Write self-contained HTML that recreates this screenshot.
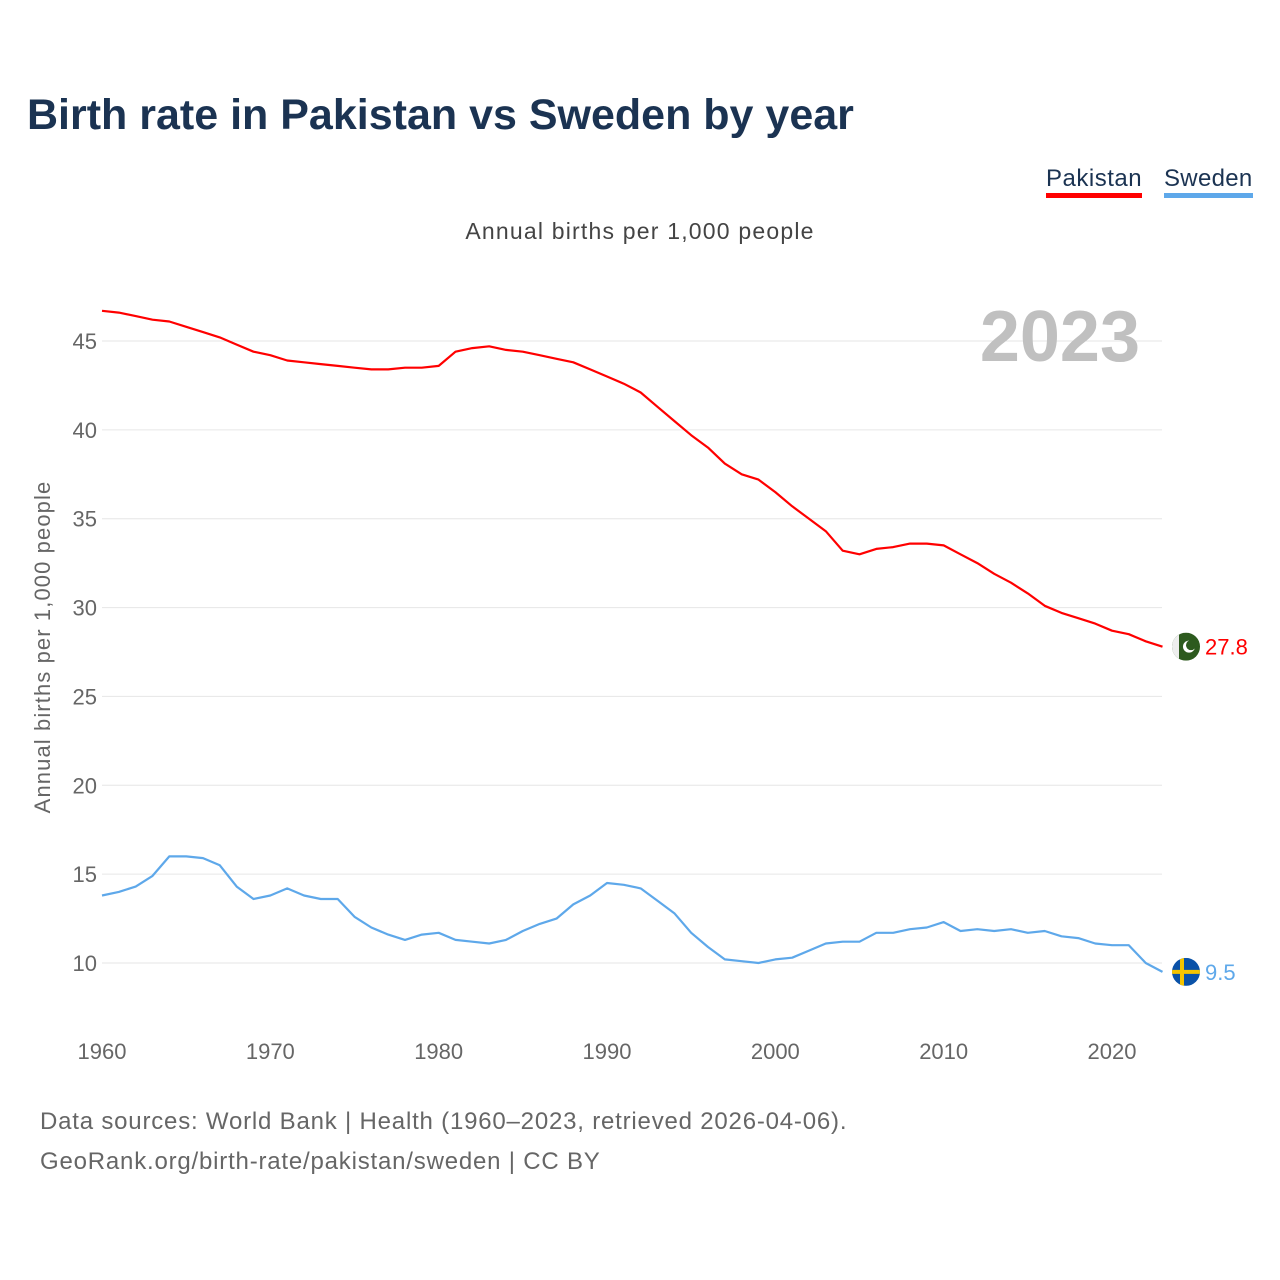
<!DOCTYPE html>
<html><head><meta charset="utf-8"><style>
body{margin:0;background:#fff;font-family:"Liberation Sans",sans-serif}
#wrap{position:relative;width:1280px;height:1280px;overflow:hidden}
.t{position:absolute;white-space:nowrap}
</style></head><body>
<div id="wrap">
<div class="t" style="left:27px;top:91px;font-size:43px;font-weight:bold;color:#1b3352">Birth rate in Pakistan vs Sweden by year</div>
<div class="t" style="left:1046px;top:165px;font-size:24px;color:#1b3352;border-bottom:5px solid #ff0000;line-height:28px;letter-spacing:0.5px">Pakistan</div>
<div class="t" style="left:1164px;top:165px;font-size:24px;color:#1b3352;border-bottom:5px solid #5ea8ea;line-height:28px;letter-spacing:0.3px">Sweden</div>
<div class="t" style="left:0;width:1280px;text-align:center;top:218px;font-size:23px;color:#444;letter-spacing:1.2px">Annual births per 1,000 people</div>
<svg id="chart" width="1280" height="1280" style="position:absolute;left:0;top:0"></svg>
<div class="t" style="left:40px;top:1108px;font-size:24px;color:#666;letter-spacing:0.8px">Data sources: World Bank | Health (1960–2023, retrieved 2026-04-06).</div>
<div class="t" style="left:40px;top:1148px;font-size:24px;color:#666;letter-spacing:0.8px">GeoRank.org/birth-rate/pakistan/sweden | CC BY</div>
</div>
<script>
const startYear = 1960;
const pakistan = [46.7,46.6,46.4,46.2,46.1,45.8,45.5,45.2,44.8,44.4,44.2,43.9,43.8,43.7,43.6,43.5,43.4,43.4,43.5,43.5,43.6,44.4,44.6,44.7,44.5,44.4,44.2,44.0,43.8,43.4,43.0,42.6,42.1,41.3,40.5,39.7,39.0,38.1,37.5,37.2,36.5,35.7,35.0,34.3,33.2,33.0,33.3,33.4,33.6,33.6,33.5,33.0,32.5,31.9,31.4,30.8,30.1,29.7,29.4,29.1,28.7,28.5,28.1,27.8];
const sweden = [13.8,14.0,14.3,14.9,16.0,16.0,15.9,15.5,14.3,13.6,13.8,14.2,13.8,13.6,13.6,12.6,12.0,11.6,11.3,11.6,11.7,11.3,11.2,11.1,11.3,11.8,12.2,12.5,13.3,13.8,14.5,14.4,14.2,13.5,12.8,11.7,10.9,10.2,10.1,10.0,10.2,10.3,10.7,11.1,11.2,11.2,11.7,11.7,11.9,12.0,12.3,11.8,11.9,11.8,11.9,11.7,11.8,11.5,11.4,11.1,11.0,11.0,10.0,9.5];
const yTicks = [10,15,20,25,30,35,40,45];
const xTicks = [1960,1970,1980,1990,2000,2010,2020];
const endLabels = ["27.8","9.5"];

const NS="http://www.w3.org/2000/svg";
const svg=document.getElementById('chart');
const X=y=>102+(y-1960)*(1010/60);
const Y=v=>963-(v-10)*(622/35);
function mk(tag,attrs){const e=document.createElementNS(NS,tag);for(const k in attrs)e.setAttribute(k,attrs[k]);svg.appendChild(e);return e;}
yTicks.forEach(v=>{
  const g=mk('line',{x1:102,x2:1162,y1:Y(v),y2:Y(v),stroke:'#e6e6e6','stroke-width':1});
  
  
  const t=mk('text',{x:97,y:Y(v)+8,'text-anchor':'end','font-size':22,fill:'#666','font-family':'Liberation Sans, sans-serif'});
  t.textContent=v;
  
  
});
xTicks.forEach(v=>{
  const t=mk('text',{x:X(v),y:1059,'text-anchor':'middle','font-size':22,fill:'#666','font-family':'Liberation Sans, sans-serif'});
  t.textContent=v;
  
  
});
const yl=mk('text',{transform:'translate(50,647) rotate(-90)','text-anchor':'middle','font-size':22,fill:'#666','font-family':'Liberation Sans, sans-serif','letter-spacing':1.1});
yl.textContent='Annual births per 1,000 people';


const yr=mk('text',{x:1140,y:361,'text-anchor':'end','font-size':72,'font-weight':'bold',fill:'#c0c0c0','font-family':'Liberation Sans, sans-serif'});
yr.textContent='2023';


function line(arr,color,name){
  const d=arr.map((v,i)=>(i?'L':'M')+X(startYear+i).toFixed(1)+','+Y(v).toFixed(1)).join('');
  const p=mk('path',{d:d,fill:'none',stroke:color,'stroke-width':2.2,'stroke-linejoin':'round'});
  
  
}
line(pakistan,'#ff0000','pakistan-line');
line(sweden,'#5ea8ea','sweden-line');
const py=Y(pakistan[pakistan.length-1]);
const pf=mk('g',{});


pf.innerHTML=`<clipPath id="cp"><circle cx="1186" cy="${py}" r="14"/></clipPath><g clip-path="url(#cp)"><rect x="1172" y="${py-14}" width="28" height="28" fill="#2d5a1e"/><rect x="1172" y="${py-14}" width="7" height="28" fill="#eee"/><circle cx="1189" cy="${py}" r="6" fill="#fff"/><circle cx="1191" cy="${py-1.5}" r="5" fill="#2d5a1e"/></g>`;
const pl=mk('text',{x:1205,y:py+8,'font-size':22,fill:'#ff0000','font-family':'Liberation Sans, sans-serif'});
pl.textContent=endLabels[0];


const sy=Y(sweden[sweden.length-1]);
const sf=mk('g',{});


sf.innerHTML=`<clipPath id="cs"><circle cx="1186" cy="${sy}" r="14"/></clipPath><g clip-path="url(#cs)"><rect x="1172" y="${sy-14}" width="28" height="28" fill="#0a52a8"/><rect x="1180" y="${sy-14}" width="4" height="28" fill="#f5c400"/><rect x="1172" y="${sy-2}" width="28" height="4" fill="#f5c400"/></g>`;
const sl=mk('text',{x:1205,y:sy+8,'font-size':22,fill:'#5ea8ea','font-family':'Liberation Sans, sans-serif'});
sl.textContent=endLabels[1];


</script>
</body></html>
